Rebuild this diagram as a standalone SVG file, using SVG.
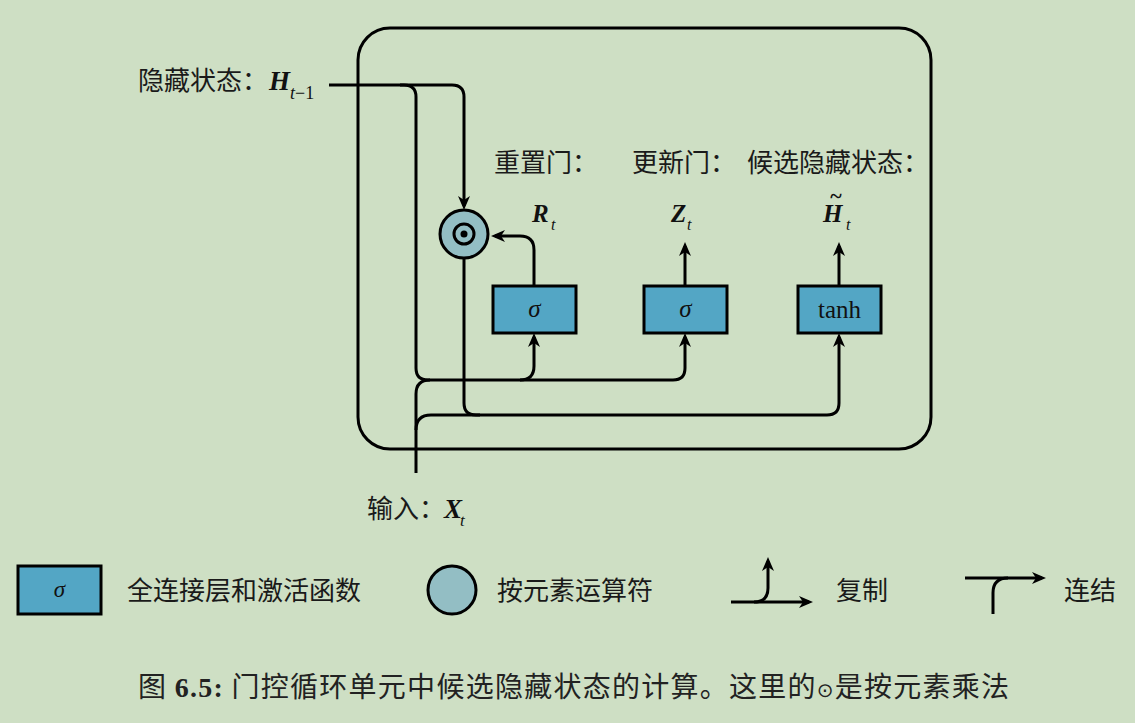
<svg xmlns="http://www.w3.org/2000/svg" width="1135" height="723" viewBox="0 0 1135 723">
<defs>
<marker id="arr" markerUnits="userSpaceOnUse" markerWidth="16" markerHeight="14" refX="10" refY="7" orient="auto">
<path d="M0,1 L14,7 L0,13 L4,7 z" fill="#000"/>
</marker>
<style>
.cjk{font-family:"Noto Sans CJK SC","Noto Sans",sans-serif;font-size:26px;fill:#1a1a1a}
.m{font-family:"Liberation Serif",serif;font-weight:bold;font-style:italic;fill:#111}
.s{font-family:"Liberation Serif",serif;font-style:italic;fill:#111}
.r{font-family:"Liberation Serif",serif;fill:#111}
.box{fill:#53a6c5;stroke:#000;stroke-width:3}
.cir{fill:#93bec4;stroke:#000;stroke-width:3}
.ln{fill:none;stroke:#000;stroke-width:3}
</style>
</defs>
<rect width="1135" height="723" fill="#cedfc4"/>
<g id="frame"><rect x="358" y="28" width="573" height="421" rx="32" class="ln"/></g>
<g id="connectors">
<path class="ln" d="M329,85 H404 Q416,85 416,97 V368 Q416,380 428,380 H673 Q685,380 685,368 V337" marker-end="url(#arr)"/>
<path class="ln" d="M520,380 Q534,380 534,366 V337" marker-end="url(#arr)"/>
<path class="ln" d="M400,85 H452 Q464,85 464,97 V206" marker-end="url(#arr)"/>
<path class="ln" d="M416,473 V394 Q416,380 430,380"/>
<path class="ln" d="M416,430 Q416,415 431,415 H480"/>
<path class="ln" d="M464,258 V403 Q464,415 476,415 H827 Q839,415 839,403 V337" marker-end="url(#arr)"/>
<path class="ln" d="M534,286 V250 Q534,236 520,236 H495" marker-end="url(#arr)"/>
<path class="ln" d="M685,286 V246" marker-end="url(#arr)"/>
<path class="ln" d="M839,286 V246" marker-end="url(#arr)"/>
</g>
<g id="hprev">
<text class="cjk" x="138" y="90">隐藏状态：</text>
<text class="m" x="269" y="90" font-size="27">H</text>
<text x="290" y="99" font-size="18"><tspan class="s">t</tspan><tspan class="r">−1</tspan></text>
</g>
<g id="input">
<text class="cjk" x="367" y="518">输入：</text>
<text class="m" x="444" y="518" font-size="27">X</text>
<text class="s" x="460" y="526" font-size="17">t</text>
</g>
<g id="headers">
<text class="cjk" x="494" y="172">重置门：</text>
<text class="cjk" x="632" y="172">更新门：</text>
<text class="cjk" x="747" y="172">候选隐藏状态：</text>
</g>
<g id="labels">
<text class="m" x="532" y="222" font-size="25">R</text>
<text class="s" x="551" y="230" font-size="16">t</text>
<text class="m" x="671" y="222" font-size="25">Z</text>
<text class="s" x="687" y="230" font-size="16">t</text>
<text class="m" x="823" y="222" font-size="25">H</text>
<text class="r" x="836" y="203" font-size="22" font-weight="bold" text-anchor="middle">~</text>
<text class="s" x="846" y="230" font-size="16">t</text>
</g>
<g id="mult">
<circle cx="464" cy="234" r="24" class="cir"/>
<circle cx="464" cy="234" r="10" fill="none" stroke="#000" stroke-width="3"/>
<circle cx="464" cy="234" r="3.5" fill="#000"/>
</g>
<g id="gate-r">
<rect x="493" y="286" width="83" height="47" class="box"/>
<text class="s" x="534.5" y="317" font-size="25" text-anchor="middle">σ</text>
</g>
<g id="gate-z">
<rect x="644" y="286" width="83" height="47" class="box"/>
<text class="s" x="685.5" y="317" font-size="25" text-anchor="middle">σ</text>
</g>
<g id="cand">
<rect x="798" y="286" width="83" height="47" class="box"/>
<text class="r" x="839.5" y="318" font-size="25" text-anchor="middle">tanh</text>
</g>
<g id="legend-fc">
<rect x="18" y="566" width="83" height="48" class="box"/>
<text class="s" x="59.5" y="597" font-size="23" text-anchor="middle">σ</text>
<text class="cjk" x="127" y="600">全连接层和激活函数</text>
</g>
<g id="legend-op">
<circle cx="452" cy="590" r="24" class="cir"/>
<text class="cjk" x="497" y="600">按元素运算符</text>
</g>
<g id="legend-copy">
<path class="ln" d="M731,602 H809" marker-end="url(#arr)"/>
<path class="ln" d="M754,602 Q768,602 768,588 V561" marker-end="url(#arr)"/>
<text class="cjk" x="836" y="600">复制</text>
</g>
<g id="legend-concat">
<path class="ln" d="M965,578 H1042" marker-end="url(#arr)"/>
<path class="ln" d="M993,614 V593 Q993,578 1008,578"/>
<text class="cjk" x="1064" y="600">连结</text>
</g>
<g id="caption">
<text x="138" y="697" font-size="28" fill="#222" textLength="871" lengthAdjust="spacing" font-family="'Noto Sans CJK SC',sans-serif"><tspan>图 </tspan><tspan font-family="'Liberation Serif',serif" font-weight="bold">6.5:</tspan><tspan> 门控循环单元中候选隐藏状态的计算。这里的</tspan><tspan font-family="'DejaVu Sans',sans-serif" font-size="20">⊙</tspan><tspan>是按元素乘法</tspan></text>
</g>
</svg>
